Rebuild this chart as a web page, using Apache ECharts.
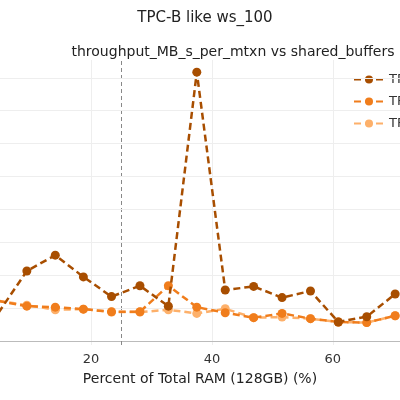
<!DOCTYPE html><html><head><meta charset="utf-8"><script src="https://cdn.jsdelivr.net/npm/echarts@6/dist/echarts.min.js"></script></head><body style="margin:0"><div id="c" style="width:400px;height:400px"></div><script>
const xs=[4.7,9.4,14.1,18.75,23.4,28.1,32.8,37.5,42.2,46.9,51.6,56.3,60.9,65.6,70.3];
const s1=[0.86,2.13,2.61,1.95,1.35,1.68,1.06,8.17,1.55,1.66,1.32,1.52,0.58,0.74,1.43];
const s2=[1.22,1.06,1.03,0.97,0.89,0.89,1.68,1.03,0.86,0.71,0.84,0.68,0.58,0.56,0.77];
const s3=[1.22,1.09,0.95,0.97,0.88,0.88,0.95,0.84,0.98,0.71,0.73,0.68,0.58,0.56,0.77];
const names=['TPC-B run 1','TPC-B run 2','TPC-B run 3'];
const cols=['#a84e00','#f07d1c','#fdb06a'];
const xticks=[20,40,60];
const ch=echarts.init(document.getElementById('c'));
const mk=(d,i)=>({name:names[i],type:'line',data:xs.map((x,j)=>[x,d[j]]),symbol:'circle',symbolSize:9,
 itemStyle:{color:cols[i]},lineStyle:{color:cols[i],width:2.5,type:[7,4]},z:10-i,
 markLine:i==0?{silent:true,symbol:'none',label:{show:false},lineStyle:{color:'#888',type:[4,3],width:1},data:[{xAxis:25}]}:undefined});
ch.setOption({
 title:[{text:'TPC-B like ws_100',left:200,textAlign:'center',top:6,textStyle:{fontSize:15,fontWeight:'normal',color:'#222',fontFamily:'DejaVu Sans'}},
  {text:'throughput_MB_s_per_mtxn vs shared_buffers',left:228,textAlign:'center',top:40,textStyle:{fontSize:14,fontWeight:'normal',color:'#222',fontFamily:'DejaVu Sans'}}],
 legend:{left:348,top:68,orient:'vertical',itemGap:9,itemWidth:30,itemHeight:10,textStyle:{fontSize:13,color:'#333',fontFamily:'DejaVu Sans'}},
 grid:{left:0,right:0,top:60,bottom:55},
 xAxis:{type:'value',min:4.96,max:71.1,name:'Percent of Total RAM (128GB) (%)',nameLocation:'middle',nameGap:27,
  nameTextStyle:{fontSize:14,color:'#222',fontFamily:'DejaVu Sans'},
  axisLine:{lineStyle:{color:'#bbb'}},axisTick:{show:false,customValues:xticks},
  axisLabel:{customValues:xticks,color:'#333',fontSize:13,fontFamily:'DejaVu Sans',margin:8},
  splitLine:{show:true,lineStyle:{color:'#eee'}}},
 yAxis:{type:'value',min:-0.12,max:8.54,axisLabel:{show:false},axisLine:{show:false},axisTick:{show:false},splitLine:{show:false}},
 series:[mk(s1,0),mk(s2,1),mk(s3,2),{type:'line',data:[],markLine:{silent:true,symbol:'none',label:{show:false},lineStyle:{color:'#eee',type:'solid',width:1},data:[1,2,3,4,5,6,7,8].map(v=>({yAxis:v}))}}]
});
</script></body></html>
